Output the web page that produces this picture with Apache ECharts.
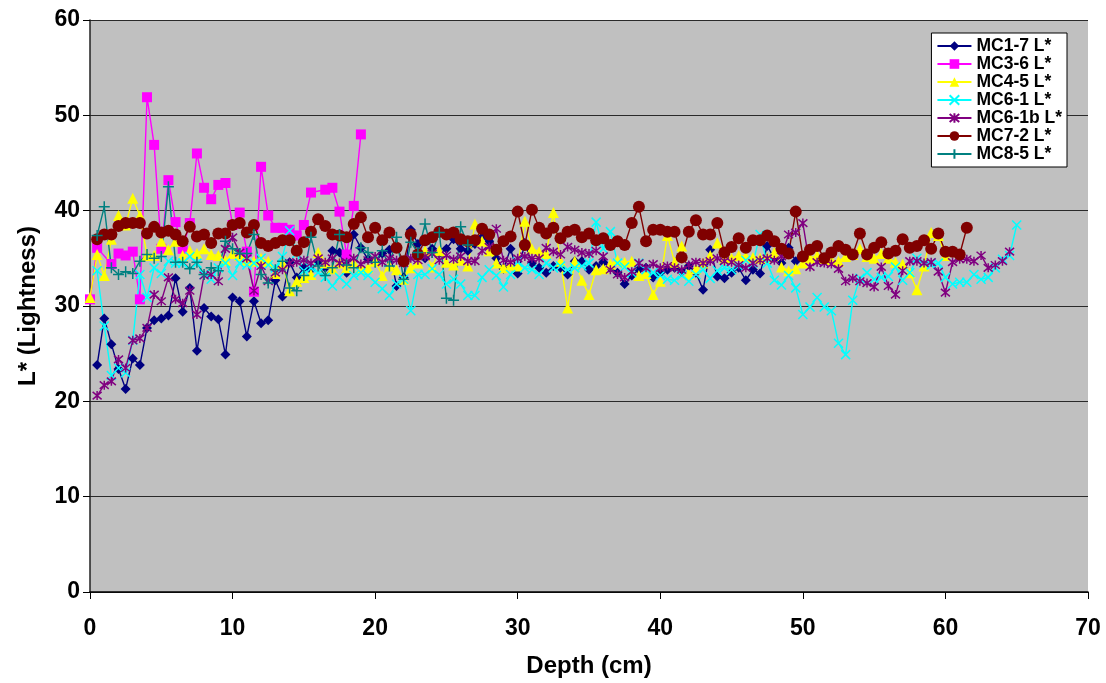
<!DOCTYPE html>
<html>
<head>
<meta charset="utf-8">
<title>L* vs Depth</title>
<script src="https://cdn.jsdelivr.net/npm/echarts@6/dist/echarts.min.js"></script>
<style>
  html, body { margin: 0; padding: 0; background: #fff; }
  #chart { width: 1106px; height: 683px; }
</style>
</head>
<body>
<div id="chart"></div>
<script>
// depth list (cm), shared by all cores
var depths = [0,0.5,1,1.5,2,2.5,3,3.5,4,4.5,5,5.5,6,6.5,7,7.5,8,8.5,9,9.5,
  10,10.5,11,11.5,12,12.5,13,13.5,14,14.5,15,15.5,16,16.5,17,17.5,18,18.5,19,19.5,
  20,20.5,21,21.5,22,22.5,23,23.5,24,24.5,25,25.5,26,26.5,27,27.5,28,28.5,29,29.5,
  30,30.5,31,31.5,32,32.5,33,33.5,34,34.5,35,35.5,36,36.5,37,37.5,38,38.5,39,39.5,
  40,40.5,41,41.5,42,42.5,43,43.5,44,44.5,45,45.5,46,46.5,47,47.5,48,48.5,49,49.5,
  50,50.5,51,51.5,52,52.5,53,53.5,54,54.5,55,55.5,56,56.5,57,57.5,58,58.5,59,59.5,
  60,60.5,61,61.5,62,62.5,63,63.5,64,64.5,65];

var seriesNames = ["MC1-7 L*","MC3-6 L*","MC4-5 L*","MC6-1 L*","MC6-1b L*","MC7-2 L*","MC8-5 L*"];

// L* values, each core starts at the given index of depths
var mc17Start = 1;//0.5 cm
var mc17 = [23.8,28.7,26.0,23.4,21.3,24.5,23.8,27.7,28.5,28.7,
  29.0,32.9,29.4,31.9,25.3,29.8,28.9,28.6,24.9,30.9,
  30.5,26.8,30.5,28.2,28.5,32.7,31.0,34.6,33.0,34.0,
  33.8,34.7,34.0,35.8,35.6,33.5,37.5,36.1,34.9,34.6,
  35.5,35.9,32.1,33.0,38.0,36.5,35.0,36.0,35.5,36.0,
  37.0,36.0,35.8,36.5,37.2,36.8,35.0,33.9,36.0,33.4,
  36.6,34.5,34.0,33.5,34.2,34.0,33.3,34.7,34.7,33.8,
  34.2,34.6,34.0,33.5,32.3,33.2,33.8,34.0,33.0,33.5,
  33.8,34.0,33.6,34.2,33.5,31.7,35.9,33.1,32.9,33.5,
  34.0,32.7,33.8,33.4,36.3,35.0,34.5,36.1,34.7];

var mc36Start = 0;
var mc36 = [30.7,36.1,null,34.4,35.5,35.3,35.7,30.7,51.9,46.9,
  36.0,43.2,38.8,36.0,38.7,46.0,42.4,41.2,42.7,42.9,
  38.5,39.8,35.7,31.5,44.6,39.5,38.2,38.2,38.0,37.4,
  38.5,41.9,null,42.2,42.4,39.9,35.4,40.5,48.0];

var mc45Start = 0;
var mc45 = [30.9,35.4,33.2,37.0,39.5,38.5,41.3,39.5,35.3,35.3,
  36.8,35.9,36.8,35.3,35.8,35.5,36.0,35.4,35.3,34.8,
  35.5,35.3,34.8,34.7,35.0,34.7,33.4,34.5,31.6,32.6,
  33.0,33.3,35.6,34.5,33.9,34.5,34.0,34.5,34.0,34.0,
  34.7,33.2,34.2,33.8,32.8,34.0,34.5,35.8,34.1,35.8,
  34.6,34.3,34.8,34.2,38.6,36.8,35.8,34.5,34.0,34.3,
  34.2,38.9,36.0,35.7,35.5,39.8,34.7,29.8,34.7,32.7,
  31.2,33.8,33.9,34.4,34.8,34.6,34.7,33.2,33.4,31.2,
  32.6,37.4,34.6,36.3,33.3,33.9,34.5,35.3,36.6,35.0,
  35.0,35.3,35.2,35.1,35.0,35.1,35.6,34.1,33.7,33.9,
  34.5,35.0,35.3,35.0,34.8,34.7,35.2,35.4,36.0,35.2,
  35.0,35.5,35.0,34.6,34.4,33.5,31.7,34.2,37.7,37.4,
  35.3];

var mc61Start = 1;
var mc61 = [33.7,27.9,22.7,23.5,23.0,26.4,33.3,30.9,34.0,33.4,
  34.7,34.5,34.5,35.2,34.5,33.3,32.8,34.0,34.5,33.2,
  34.5,34.3,34.5,35.0,34.3,34.0,35.2,37.9,35.5,33.7,
  34.0,33.5,33.0,32.1,33.0,32.3,33.2,33.5,33.2,32.5,
  31.8,31.1,32.3,32.8,29.5,33.3,33.3,33.9,33.3,32.3,
  32.8,32.3,31.1,31.1,33.0,33.8,33.2,32.0,33.3,34.6,
  34.0,33.8,33.3,34.5,34.0,34.2,33.8,34.0,34.2,34.5,
  38.8,36.0,37.8,34.5,34.1,33.5,34.5,33.8,33.5,33.2,
  32.8,32.7,33.2,32.6,33.3,33.8,32.9,33.7,34.0,33.8,
  34.2,34.8,34.5,37.5,34.5,32.7,32.2,33.2,31.9,29.1,
  29.9,30.9,29.9,29.5,26.1,24.9,30.6,32.9,33.5,32.8,
  33.0,33.1,34.1,32.7,33.5,35.0,34.5,34.3,34.5,33.0,
  32.3,32.5,32.5,33.3,32.8,33.0,34.0,34.9,35.3,38.5];

var mc61bStart = 1;
var mc61b = [20.6,21.7,22.1,24.4,23.5,26.4,26.6,27.7,31.2,30.5,
  33.0,30.7,30.3,31.6,29.1,33.2,33.3,32.6,36.0,37.2,
  35.6,35.0,31.6,34.2,32.6,33.5,33.8,34.5,34.6,34.8,
  34.5,35.0,34.6,35.0,34.5,34.6,35.0,34.4,34.8,35.2,
  34.6,35.0,34.8,34.5,35.0,34.8,35.2,35.5,34.8,35.3,
  34.9,35.2,34.7,34.7,35.8,36.2,38.1,34.8,34.6,35.0,
  35.2,35.0,35.0,36.1,35.7,35.4,36.2,35.9,35.6,35.5,
  35.8,35.2,33.8,33.3,33.0,33.6,34.5,34.0,34.4,34.0,
  34.2,34.0,33.8,34.3,34.6,34.5,34.7,35.0,34.7,34.6,
  34.3,34.0,34.5,34.8,35.0,34.8,35.2,37.5,37.7,38.7,
  34.1,34.6,34.5,34.4,33.9,32.6,32.9,32.6,32.4,32.0,
  34.1,32.1,31.2,33.7,34.7,34.7,34.5,34.6,33.6,31.4,
  34.6,34.9,34.9,34.7,35.3,34.0,34.3,34.7,35.7];

var mc72Start = 1;
var mc72 = [37.0,37.5,37.5,38.4,38.7,38.7,38.7,37.6,38.3,37.7,
  37.9,37.5,36.8,38.3,37.3,37.5,36.6,37.6,37.6,38.5,
  38.7,37.7,38.5,36.6,36.3,36.6,36.9,36.9,35.8,36.7,
  37.8,39.1,38.4,37.5,37.4,37.2,38.6,39.3,37.2,38.2,
  36.9,37.7,36.1,34.7,37.5,35.4,36.9,37.2,37.8,37.5,
  37.7,37.0,36.8,36.9,38.1,37.5,35.9,36.8,37.3,39.9,
  36.4,40.1,38.2,37.6,38.2,37.1,37.8,38.0,37.2,37.6,
  36.9,37.1,36.4,36.8,36.4,38.7,40.4,36.8,38.0,38.0,
  37.8,37.8,35.1,37.8,39.0,37.5,37.5,38.7,35.6,36.2,
  37.1,36.1,36.9,36.9,37.4,36.8,36.0,35.5,39.9,35.2,
  35.9,36.3,35.0,35.6,36.3,35.9,35.4,37.6,35.4,36.1,
  36.7,35.5,35.8,37.0,36.1,36.3,36.9,36.0,37.6,35.7,
  35.7,35.4,38.2];

var mc85Start = 1;
var mc85 = [37.4,40.4,34.0,33.3,33.6,33.4,34.7,35.4,35.0,35.2,
  42.5,34.6,34.6,33.9,34.6,33.3,34.0,33.7,36.8,36.0,
  35.5,35.5,37.5,33.3,32.4,33.8,34.7,31.9,31.6,33.2,
  37.2,34.2,33.2,34.0,37.5,34.3,34.0,36.1,35.6,34.6,
  35.8,34.2,37.2,32.8,36.7,35.6,38.6,35.6,37.7,30.8,
  30.6,38.3,36.4];

var colors = ["#000080","#FF00FF","#FFFF00","#00FFFF","#800080","#800000","#008080"];
var symbols = [
    "diamond",
    "rect",
    "triangle",
    "path://M0,0L10,10M10,0L0,10",//x
    "path://M0,0L10,10M10,0L0,10M5,-1L5,11",//asterisk
    "circle",
    "path://M5,0L5,10M0,5L10,5"//plus
];
var symbolSizes = [10,10,11,9,9,12,11];

//把深度和数值拼成坐标
function pairs(start, vals){
    var out = [];
    for(var i=0;i<vals.length;i++){
        out.push([depths[start+i], vals[i]]);
    }
    return out;
}

var allData = [
    pairs(mc17Start, mc17),
    pairs(mc36Start, mc36),
    pairs(mc45Start, mc45),
    pairs(mc61Start, mc61),
    pairs(mc61bStart, mc61b),
    pairs(mc72Start, mc72),
    pairs(mc85Start, mc85)
];

var series = [];
for(var k=0;k<seriesNames.length;k++){
    var stroked = symbols[k].indexOf("path://")==0;
    series.push({
        name: seriesNames[k],
        type: "line",
        data: allData[k],
        connectNulls: true,
        symbol: symbols[k],
        symbolSize: symbolSizes[k],
        showAllSymbol: true,
        lineStyle: { color: colors[k], width: 1.4 },
        itemStyle: {
            color: colors[k],
            borderColor: colors[k],
            borderWidth: stroked ? 1.5 : 0
        },
        emphasis: { disabled: true },
        animation: false
    });
}

var fontFam = "'Liberation Sans', Arial, sans-serif";

var chart = echarts.init(document.getElementById("chart"));
chart.setOption({
    backgroundColor: "#ffffff",
    animation: false,
    grid: {
        left: 90, right: 18, top: 20, bottom: 86,
        show: true,
        backgroundColor: "#C0C0C0",
        borderWidth: 0
    },
    legend: {
        data: seriesNames,
        orient: "vertical",
        right: 39,
        top: 33,
        backgroundColor: "#ffffff",
        borderColor: "#000000",
        borderWidth: 1,
        padding: [4, 5, 4, 5],
        itemWidth: 34,
        itemHeight: 12,
        itemGap: 0,
        textStyle: { fontFamily: fontFam, fontWeight: "bold", fontSize: 17.5, color: "#000", lineHeight: 15 }
    },
    xAxis: {
        type: "value",
        min: 0, max: 70, interval: 10,
        name: "Depth (cm)",
        nameLocation: "middle",
        nameGap: 62,
        nameTextStyle: { fontFamily: fontFam, fontWeight: "bold", fontSize: 24, color: "#000" },
        axisLine: { show: true, onZero: false, lineStyle: { color: "#000", width: 1.5 } },
        axisTick: { show: true, inside: false, length: 7, lineStyle: { color: "#000", width: 1 } },
        axisLabel: { fontFamily: fontFam, fontWeight: "bold", fontSize: 23, color: "#000", margin: 25 },
        splitLine: { show: false }
    },
    yAxis: {
        type: "value",
        min: 0, max: 60, interval: 10,
        name: "L* (Lightness)",
        nameLocation: "middle",
        nameGap: 50,
        nameRotate: 90,
        nameTextStyle: { fontFamily: fontFam, fontWeight: "bold", fontSize: 24, color: "#000" },
        axisLine: { show: true, lineStyle: { color: "#222", width: 1.5 } },
        axisTick: { show: true, inside: false, length: 7, lineStyle: { color: "#000", width: 1 } },
        axisLabel: { fontFamily: fontFam, fontWeight: "bold", fontSize: 23, color: "#000", margin: 10 },
        splitLine: { show: true, lineStyle: { color: "#2a2a2a", width: 1.2 } }
    },
    series: series
});
</script>
</body>
</html>
